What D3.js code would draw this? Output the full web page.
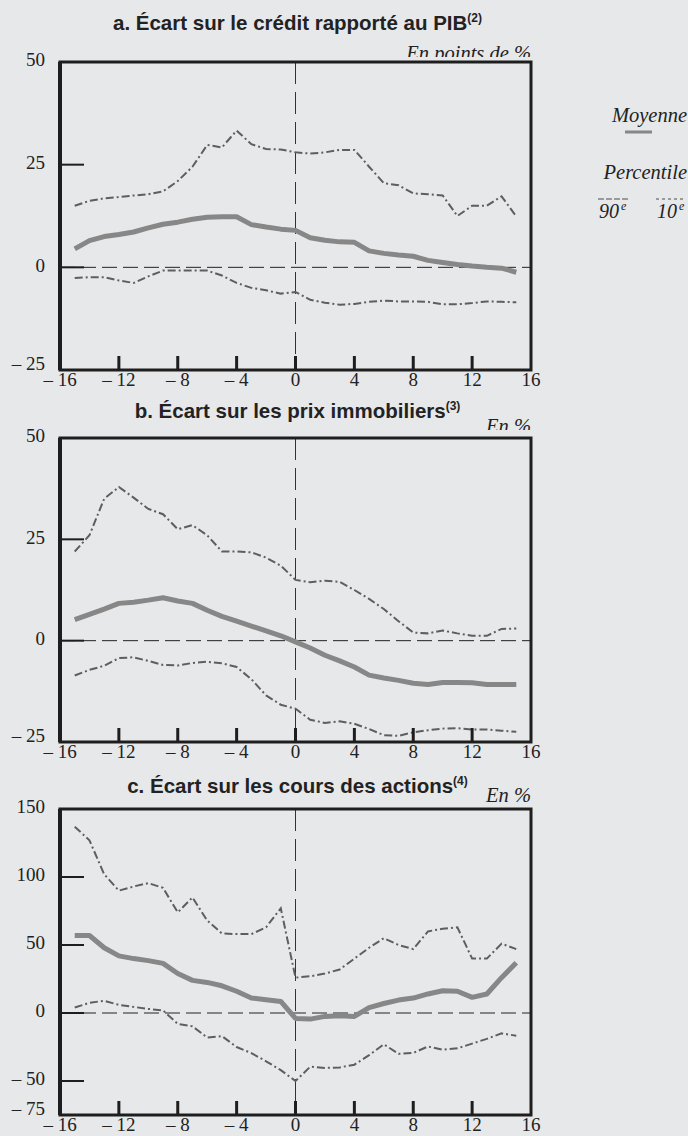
<!DOCTYPE html>
<html><head><meta charset="utf-8">
<script src="https://cdn.jsdelivr.net/npm/d3@7"></script>
<style>
body{margin:0;background:#e7e8ea;}
svg{display:block;}
</style></head><body>
<svg id="chart" width="688" height="1136"></svg>
<script>
// ---------- DATA ----------
const quarters = [-15,-14,-13,-12,-11,-10,-9,-8,-7,-6,-5,-4,-3,-2,-1,0,1,2,3,4,5,6,7,8,9,10,11,12,13,14,15];
const xTickValues = [-16,-12,-8,-4,0,4,8,12,16];
const xTickMarks = [-12,-8,-4,0,4,8,12];

// a. Crédit / PIB
const meanA = [4.5,6.5,7.5,8.0,8.6,9.6,10.5,11.0,11.7,12.2,12.3,12.3,10.4,9.8,9.3,9.0,7.2,6.6,6.2,6.1,4.0,3.4,3.0,2.7,1.7,1.2,0.7,0.3,0.0,-0.2,-1.2];
const p90A  = [15.0,16.2,16.8,17.1,17.5,17.8,18.5,21.0,24.5,29.8,29.2,33.3,30.0,28.8,28.7,28.0,27.7,28.0,28.6,28.6,24.5,20.5,20.0,18.0,17.8,17.5,12.5,15.0,15.0,17.3,12.4];
const p10A  = [-2.6,-2.4,-2.4,-3.2,-3.8,-2.2,-0.8,-0.8,-0.8,-0.8,-2.0,-3.8,-5.0,-5.6,-6.4,-6.0,-7.9,-8.6,-9.1,-8.9,-8.4,-8.1,-8.3,-8.3,-8.4,-9.0,-9.0,-8.7,-8.3,-8.4,-8.5];
const yLabelsA = [-25,0,25,50];
const yMarksA = [0,25];

// b. Prix immobiliers
const meanB = [5.2,6.5,7.8,9.2,9.5,10.0,10.6,9.8,9.2,7.5,6.0,4.8,3.6,2.4,1.2,-0.3,-1.8,-3.6,-5.0,-6.5,-8.5,-9.2,-9.8,-10.5,-10.8,-10.3,-10.3,-10.4,-10.8,-10.8,-10.8];
const p90B  = [22.0,26.0,35.0,37.9,35.3,32.5,31.2,27.5,28.5,26.0,22.0,22.0,21.8,20.5,18.5,15.0,14.4,14.8,14.5,12.5,10.3,7.8,4.8,2.0,1.8,2.5,1.8,1.2,1.2,2.9,3.0];
const p10B  = [-8.6,-7.2,-6.2,-4.3,-4.1,-5.0,-6.0,-6.1,-5.5,-5.2,-5.6,-6.5,-9.5,-13.5,-15.8,-16.8,-19.5,-20.3,-19.9,-20.5,-21.8,-23.3,-23.5,-22.6,-22.1,-21.7,-21.6,-21.9,-21.9,-22.2,-22.5];
const yLabelsB = [-25,0,25,50];
const yMarksB = [0,25];

// c. Cours des actions
const meanC = [57,57,48,42,40,38.5,36.5,29,24,22.5,20,16,11,9.8,8.5,-4,-4.5,-2.5,-2,-2.5,4,7,9.5,11,14,16.4,16,11.5,14,26,37];
const p90C  = [137,127,102,90,93,95.5,92,74,85,68,58.5,58,58,63,77,26,27,29,32,40,48,55,50,47,60,62,63,40,40,51,47];
const p10C  = [4,7.5,9,6,4.5,3,1.9,-8,-9.8,-18,-17,-25,-29.5,-35.5,-42,-50,-39.5,-40.4,-40,-38,-31,-23,-30,-29.4,-24.6,-27,-26,-22.5,-19,-15,-16.7];
const yLabelsC = [-75,-50,0,50,100,150];
const yMarksC = [-50,0,50,100];

const titles = ["a. Écart sur le crédit rapporté au PIB","b. Écart sur les prix immobiliers","c. Écart sur les cours des actions"];
const titleNotes = ["(2)","(3)","(4)"];
const units = ["En points de %","En %","En %"];
const legendLabels = ["Moyenne","Percentile","90","10"];

// ---------- LAYOUT ----------
const svg = d3.select("#chart");
const defs = svg.append("defs");
const L = 60, R = 531;
const panels = [
  {top:62, bottom:370, domain:[-25,50], yLabels:yLabelsA, yMarks:yMarksA, mean:meanA, p90:p90A, p10:p10A, titleY:30, unitY:60, unitClip:57},
  {top:438, bottom:742, domain:[-25,50], yLabels:yLabelsB, yMarks:yMarksB, mean:meanB, p90:p90B, p10:p10B, titleY:418, unitY:433, unitClip:430},
  {top:809, bottom:1115, domain:[-75,150], yLabels:yLabelsC, yMarks:yMarksC, mean:meanC, p90:p90C, p10:p10C, titleY:793, unitY:802, unitClip:900}
];
const serif = "'Liberation Serif','Times New Roman',serif";
const sans = "'Liberation Sans',Arial,sans-serif";
const fmt = v => v < 0 ? "\u2013 " + Math.abs(v) : String(v);
const meanColor = "#878787", pctColor = "#5e5e5e";
const dash = "8,3,2,3";

panels.forEach((p, i) => {
  const x = d3.scaleLinear().domain([-16,16]).range([L,R]);
  const y = d3.scaleLinear().domain(p.domain).range([p.bottom,p.top]);
  const g = svg.append("g");

  // title
  const t = g.append("text").attr("x", (L+R)/2 + 2).attr("y", p.titleY)
    .attr("text-anchor","middle").attr("font-family",sans).attr("font-weight","bold")
    .attr("font-size",20.5).attr("fill","#222");
  t.append("tspan").text(titles[i]);
  t.append("tspan").text(titleNotes[i]).attr("font-size",12).attr("dy",-8);

  defs.append("clipPath").attr("id","uc"+i).append("rect")
    .attr("x",300).attr("y",p.unitY-40).attr("width",300).attr("height",p.unitClip-(p.unitY-40));
  g.append("text").attr("x",R).attr("y",p.unitY).attr("text-anchor","end")
    .attr("clip-path","url(#uc"+i+")")
    .attr("font-family",serif).attr("font-style","italic").attr("font-size",20.5)
    .attr("fill","#222").text(units[i]);

  // zero lines
  g.append("line").attr("x1",L).attr("x2",R).attr("y1",y(0)).attr("y2",y(0))
    .attr("stroke","#222").attr("stroke-width",1).attr("stroke-dasharray","15,6");
  g.append("line").attr("x1",x(0)).attr("x2",x(0)).attr("y1",p.top).attr("y2",p.bottom)
    .attr("stroke","#333").attr("stroke-width",1).attr("stroke-dasharray","22,8");

  // series
  const line = d3.line().x((d,j)=>x(quarters[j])).y(d=>y(d));
  g.append("path").datum(p.p90).attr("d",line).attr("fill","none")
    .attr("stroke",pctColor).attr("stroke-width",2).attr("stroke-dasharray",dash);
  g.append("path").datum(p.p10).attr("d",line).attr("fill","none")
    .attr("stroke",pctColor).attr("stroke-width",2).attr("stroke-dasharray",dash);
  g.append("path").datum(p.mean).attr("d",line).attr("fill","none")
    .attr("stroke",meanColor).attr("stroke-width",5).attr("stroke-linejoin","round");

  // frame
  g.append("rect").attr("x",L).attr("y",p.top).attr("width",R-L).attr("height",p.bottom-p.top)
    .attr("fill","none").attr("stroke","#1e1e1e").attr("stroke-width",3);
  g.append("line").attr("x1",L).attr("x2",L).attr("y1",p.top).attr("y2",p.bottom)
    .attr("stroke","#1e1e1e").attr("stroke-width",4);

  // x ticks (inside)
  g.selectAll(".xt").data(xTickMarks).join("line")
    .attr("x1",d=>x(d)).attr("x2",d=>x(d)).attr("y1",p.bottom).attr("y2",p.bottom-14)
    .attr("stroke","#1e1e1e").attr("stroke-width",3);
  // y ticks (inside)
  g.selectAll(".yt").data(p.yMarks).join("line")
    .attr("x1",L).attr("x2",L+24).attr("y1",d=>y(d)).attr("y2",d=>y(d))
    .attr("stroke","#1e1e1e").attr("stroke-width",2);

  // x labels
  g.selectAll(".xl").data(xTickValues).join("text")
    .attr("x",d=>x(d)).attr("y",p.bottom+16).attr("text-anchor","middle")
    .attr("font-family",serif).attr("font-size",19).attr("fill","#222").text(fmt);
  // y labels
  g.selectAll(".yl").data(p.yLabels).join("text")
    .attr("x",45).attr("y",d=>y(d) + (d===p.domain[0] ? -6 : -2))
    .attr("dy","0.33em").attr("text-anchor","end")
    .attr("font-family",serif).attr("font-size",19).attr("fill","#222").text(fmt);
});

// ---------- LEGEND ----------
const lg = svg.append("g");
lg.append("text").attr("x",687).attr("y",122).attr("text-anchor","end")
  .attr("font-family",serif).attr("font-style","italic").attr("font-size",20.5).attr("fill","#222").text(legendLabels[0]);
lg.append("line").attr("x1",625).attr("x2",652).attr("y1",132).attr("y2",132)
  .attr("stroke",meanColor).attr("stroke-width",3);
lg.append("text").attr("x",687).attr("y",179).attr("text-anchor","end")
  .attr("font-family",serif).attr("font-style","italic").attr("font-size",20.5).attr("fill","#222").text(legendLabels[1]);
[[598,628,legendLabels[2],"6,2"],[656,684,legendLabels[3],"3,3"]].forEach(([a,b,lab,da])=>{
  lg.append("line").attr("x1",a).attr("x2",b).attr("y1",199).attr("y2",199)
    .attr("stroke","#9a9a9a").attr("stroke-width",2).attr("stroke-dasharray",da);
  const tt = lg.append("text").attr("x",a+1).attr("y",218)
    .attr("font-family",serif).attr("font-style","italic").attr("font-size",20).attr("fill","#222");
  tt.append("tspan").text(lab);
  tt.append("tspan").text("e").attr("font-size",12).attr("dy",-8).attr("dx",2);
});
</script>
</body></html>
